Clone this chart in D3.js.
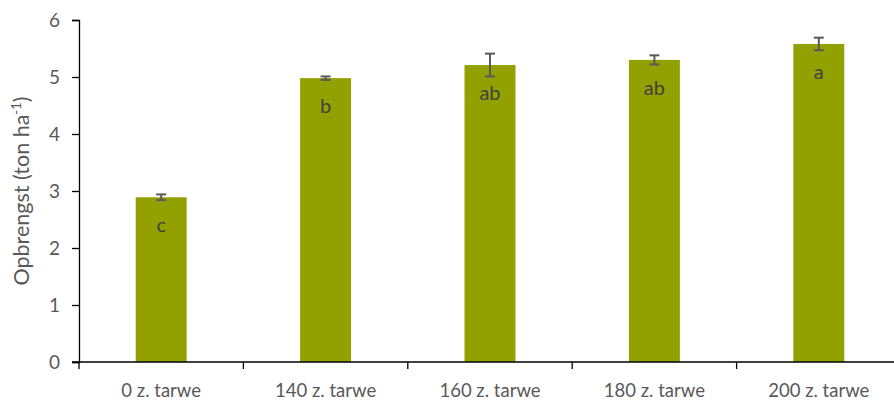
<!DOCTYPE html>
<html>
<head>
<meta charset="utf-8">
<script src="https://cdn.jsdelivr.net/npm/d3@7"></script>
<style>
  html, body { margin: 0; padding: 0; background: #fff; }
  svg text { font-family: Lato, "Open Sans", sans-serif; }
</style>
</head>
<body>
<svg id="chart" width="894" height="406"></svg>
<script>
// Chart data
const categories = ['0 z. tarwe', '140 z. tarwe', '160 z. tarwe', '180 z. tarwe', '200 z. tarwe'];
const yields = [2.89, 4.98, 5.21, 5.30, 5.58];
const errors = [0.05, 0.03, 0.20, 0.08, 0.11];
const letters = ['c', 'b', 'ab', 'ab', 'a'];
const yTicks = [0, 1, 2, 3, 4, 5, 6];

(function () {
    'use strict';

    const W = 894, H = 406;
    const margin = { left: 79, right: -7, top: 20, bottom: 44 };

    const svg = d3.select('#chart');

    const x = d3.scaleBand()
        .domain(categories)
        .range([margin.left, W - margin.right])
        .paddingInner(0.69)
        .paddingOuter(0.345);

    const y = d3.scaleLinear()
        .domain([0, 6])
        .range([H - margin.bottom, margin.top]);

    // Bars
    svg.selectAll('rect.bar')
        .data(yields)
        .enter()
        .append('rect')
        .attr('class', 'bar')
        .attr('x', (d, i) => x(categories[i]))
        .attr('width', x.bandwidth())
        .attr('y', d => y(d))
        .attr('height', d => y(0) - y(d))
        .attr('fill', '#93A100');

    // Error bars
    const eb = svg.append('g').attr('stroke', '#595959').attr('stroke-width', 2);
    yields.forEach(function (v, i) {
        const cx = x(categories[i]) + x.bandwidth() / 2;
        const lo = y(v - errors[i]), hi = y(v + errors[i]);
        eb.append('line').attr('x1', cx).attr('x2', cx).attr('y1', lo).attr('y2', hi);
        eb.append('line').attr('x1', cx - 5).attr('x2', cx + 5).attr('y1', lo).attr('y2', lo);
        eb.append('line').attr('x1', cx - 5).attr('x2', cx + 5).attr('y1', hi).attr('y2', hi);
    });

    // Significance letters
    svg.selectAll('text.letter')
        .data(letters)
        .enter()
        .append('text')
        .attr('class', 'letter')
        .attr('x', (d, i) => x(categories[i]) + x.bandwidth() / 2)
        .attr('y', (d, i) => y(yields[i]) + 35)
        .attr('text-anchor', 'middle')
        .attr('fill', '#404040')
        .attr('font-size', 20)
        .text(d => d);

    // Y axis
    const yAxis = svg.append('g')
        .attr('transform', `translate(${margin.left},0)`)
        .call(d3.axisLeft(y).tickValues(yTicks).tickFormat(d3.format('d')).tickSize(7).tickPadding(12));
    yAxis.select('.domain').attr('stroke', '#000').attr('stroke-width', 1.3);
    yAxis.selectAll('.tick line').attr('stroke', '#000').attr('stroke-width', 1.3);
    yAxis.selectAll('.tick text').attr('fill', '#595959').attr('font-size', 19)
        .style('font-family', 'Lato, sans-serif');

    // X axis with ticks at category boundaries
    const step = x.step();
    const bounds = categories.map((c, i) => margin.left + i * step);
    const xAxis = svg.append('g').attr('transform', `translate(0,${y(0)})`);
    xAxis.append('line')
        .attr('x1', margin.left - 7).attr('x2', W)
        .attr('stroke', '#000').attr('stroke-width', 1.3);
    xAxis.selectAll('line.xt')
        .data(bounds)
        .enter()
        .append('line')
        .attr('class', 'xt')
        .attr('x1', d => d).attr('x2', d => d)
        .attr('y1', 0).attr('y2', 7)
        .attr('stroke', '#000').attr('stroke-width', 1.3);
    xAxis.selectAll('text.xl')
        .data(categories)
        .enter()
        .append('text')
        .attr('class', 'xl')
        .attr('x', d => x(d) + x.bandwidth() / 2)
        .attr('y', 35)
        .attr('text-anchor', 'middle')
        .attr('fill', '#595959')
        .attr('font-size', 18.5)
        .text(d => d);

    // Y axis title
    const title = svg.append('text')
        .attr('transform', `translate(29,${(y(0) + y(6)) / 2}) rotate(-90)`)
        .attr('text-anchor', 'middle')
        .attr('fill', '#595959')
        .attr('font-size', 21.5);
    title.append('tspan').text('Opbrengst (ton ha');
    title.append('tspan').attr('dy', -8).attr('font-size', 13).text('-1');
    title.append('tspan').attr('dy', 8).text(')');
})();
</script>
</body>
</html>
